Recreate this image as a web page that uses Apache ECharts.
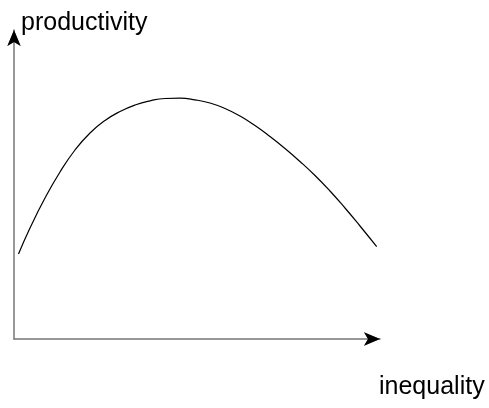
<!DOCTYPE html>
<html>
<head>
<meta charset="utf-8">
<script src="https://cdn.jsdelivr.net/npm/echarts@6/dist/echarts.min.js"></script>
<style>html,body{margin:0;padding:0;background:#fff;}#c{width:489px;height:408px;}</style>
</head>
<body>
<div id="c"></div>
<script>
// Curve (inequality -> productivity), arbitrary units
var inequality = [4.5, 16, 31, 46, 61, 76, 91, 106, 121, 136, 151, 166, 181, 196, 211, 226, 241, 256, 271, 286, 301, 316, 331, 346, 362.7];
var productivity = [85, 111, 141, 167, 189, 206, 218.5, 227.5, 234, 238.2, 240.5, 240.8, 239.2, 236, 230.5, 223, 213.5, 202.5, 190.5, 177.5, 163.5, 148, 131, 113, 92.3];
var xLabel = 'inequality';
var yLabel = 'productivity';

var points = inequality.map(function (x, i) { return [x, productivity[i]]; });

var chart = echarts.init(document.getElementById('c'), null, {renderer: 'canvas'});
function axis(color, width) {
  return {
    type: 'value',
    axisTick: {show: false},
    axisLabel: {show: false},
    splitLine: {show: false},
    axisLine: {show: true, onZero: false, symbol: ['none', 'arrow'], symbolSize: [10, 16],
      lineStyle: {color: color, width: width}}
  };
}
var font = 'Liberation Sans, Arial, sans-serif';
chart.setOption({
  animation: false,
  backgroundColor: '#ffffff',
  title: [
    {text: yLabel, left: 21, top: 11, padding: 0,
     textStyle: {fontFamily: font, fontSize: 25, fontWeight: 'normal', color: '#000'}},
    {text: xLabel, left: 379, top: 375, padding: 0,
     textStyle: {fontFamily: font, fontSize: 25, fontWeight: 'normal', color: '#000'}}
  ],
  grid: {left: 14, top: 30, width: 366, height: 309, containLabel: false},
  xAxis: [
    Object.assign(axis('#777777', 1.5), {min: 0, max: 366}),
    Object.assign(axis('#000000', 0), {min: 0, max: 366, position: 'bottom'})
  ],
  yAxis: [
    Object.assign(axis('#777777', 1.5), {min: 0, max: 309}),
    Object.assign(axis('#000000', 0), {min: 0, max: 309, position: 'left'})
  ],
  series: [{
    type: 'line',
    data: points,
    smooth: true,
    showSymbol: false,
    lineStyle: {color: '#000', width: 1.2}
  }]
});
</script>
</body>
</html>
